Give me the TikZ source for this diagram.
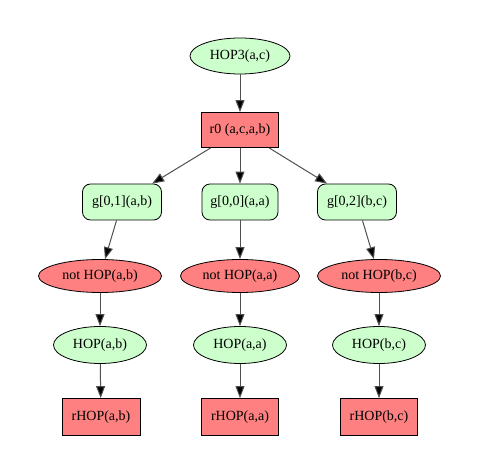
\documentclass[tikz,border=0pt]{standalone}
\usepackage{fontspec}
\setmainfont{Liberation Serif}
\usetikzlibrary{shapes.geometric,arrows.meta}
\definecolor{gfill}{HTML}{CCFFCC}
\definecolor{rfill}{HTML}{FF8080}
\definecolor{edgecol}{HTML}{505050}
\begin{document}
\begin{tikzpicture}[x=1pt,y=-1pt,
  base/.style={draw=black,line width=0.8pt,font=\fontsize{14}{16}\selectfont,inner sep=0pt},
  gell/.style={base,ellipse,fill=gfill,minimum width=93pt,minimum height=37pt},
  rell/.style={base,ellipse,fill=rfill,minimum width=123pt,minimum height=33pt},
  rbox/.style={base,rectangle,fill=rfill,minimum width=77pt,minimum height=35pt},
  gbox/.style={base,rectangle,rounded corners=8pt,fill=gfill,minimum width=79pt,minimum height=36pt},
  conn/.style={draw=edgecol,line width=1pt,-{Triangle[length=12pt,width=9pt,fill=black]}}
]
\useasboundingbox (0,0) rectangle (480,476);
\node[gell,minimum width=100pt,minimum height=36pt] (hop3) at (240,56) {HOP3(a,c)};
\node[rbox] (r0) at (240,130) {r0 (a,c,a,b)};
\node[gbox] (g01) at (122,202) {g[0,1](a,b)};
\node[gbox,minimum width=76pt] (g00) at (240,202) {g[0,0](a,a)};
\node[gbox] (g02) at (357,202) {g[0,2](b,c)};
\node[rell] (nab) at (100,276) {not HOP(a,b)};
\node[rell,minimum width=119pt] (naa) at (240,276) {not HOP(a,a)};
\node[rell] (nbc) at (379,276) {not HOP(b,c)};
\node[gell] (hab) at (100,345) {HOP(a,b)};
\node[gell] (haa) at (240,345) {HOP(a,a)};
\node[gell] (hbc) at (379,345) {HOP(b,c)};
\node[rbox,minimum width=78pt,minimum height=37pt] (rab) at (101,417) {rHOP(a,b)};
\node[rbox,minimum height=37pt] (raa) at (240,417) {rHOP(a,a)};
\node[rbox,minimum height=37pt] (rbc) at (379,417) {rHOP(b,c)};
\draw[conn] (hop3) -- (r0);
\draw[conn] (r0) -- (g01);
\draw[conn] (r0) -- (g00);
\draw[conn] (r0) -- (g02);
\draw[conn] (g01) -- (nab);
\draw[conn] (g00) -- (naa);
\draw[conn] (g02) -- (nbc);
\draw[conn] (nab) -- (hab);
\draw[conn] (naa) -- (haa);
\draw[conn] (nbc) -- (hbc);
\draw[conn] (hab) -- (rab);
\draw[conn] (haa) -- (raa);
\draw[conn] (hbc) -- (rbc);
\end{tikzpicture}
\end{document}
